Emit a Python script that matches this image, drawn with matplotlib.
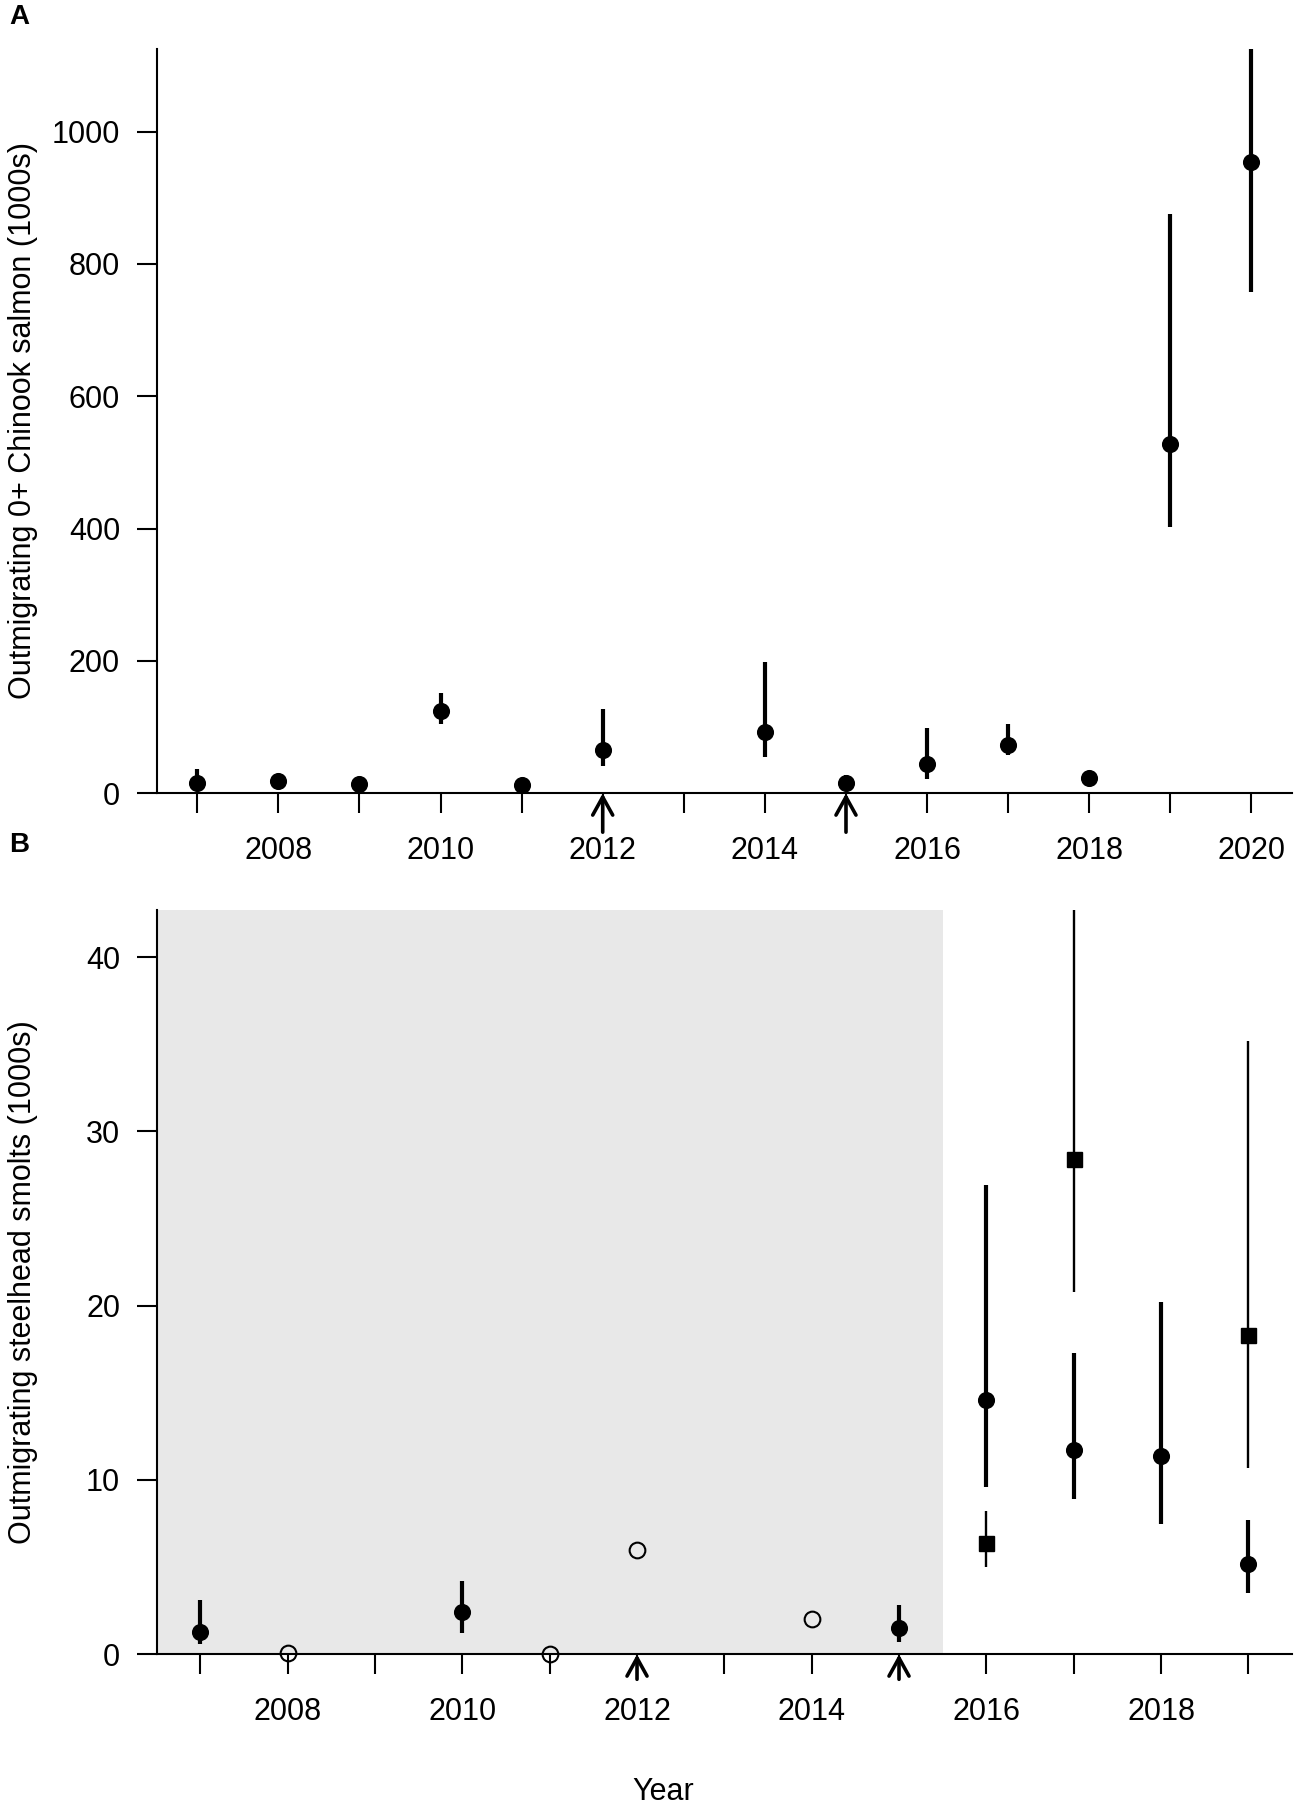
import matplotlib
matplotlib.use("Agg")
import matplotlib.pyplot as plt
import numpy as np

plt.rcParams['font.family'] = ['Liberation Sans', 'DejaVu Sans']

# Panel A: outmigrating 0+ Chinook salmon (1000s)
chinook_year = [2007, 2008, 2009, 2010, 2011, 2012, 2014, 2015, 2016, 2017, 2018, 2019, 2020]
chinook_est = [16, 18, 14, 125, 12, 65, 93, 15, 45, 73, 23, 528, 954]
chinook_lo = [8, 13, 10, 104, 7, 41, 55, 7, 22, 58, 16, 403, 758]
chinook_hi = [36, 23, 18, 152, 21, 127, 198, 28, 98, 104, 33, 875, 1160]

# Panel B: outmigrating steelhead smolts (1000s)
sh_year = [2007, 2010, 2015, 2016, 2017, 2018, 2019]
sh_est = [1.3, 2.4, 1.5, 14.6, 11.7, 11.4, 5.2]
sh_lo = [0.6, 1.2, 0.7, 9.6, 8.9, 7.5, 3.5]
sh_hi = [3.1, 4.2, 2.8, 26.9, 17.3, 20.2, 7.7]

sh_open_year = [2008, 2011, 2012, 2014]
sh_open_est = [0.1, 0.0, 6.0, 2.0]

sh_sq_year = [2016, 2017, 2019]
sh_sq_est = [6.4, 28.4, 18.3]
sh_sq_lo = [5.0, 20.8, 10.7]
sh_sq_hi = [8.2, 46.0, 35.2]

arrow_years = [2012, 2015]
shade_end = 2015.5

FS = 22
MS = 11.3
W, H = 1299, 1811


def style_axes(ax, years, yticks):
    for s in ['top', 'right']:
        ax.spines[s].set_visible(False)
    for s in ['left', 'bottom']:
        ax.spines[s].set_linewidth(1.5)
    ax.set_xticks(years)
    ax.set_xticklabels([str(y) if y % 2 == 0 else '' for y in years])
    ax.set_yticks(yticks)
    ax.tick_params(axis='x', length=14.4, width=1.5, pad=16, labelsize=FS)
    ax.tick_params(axis='y', length=14.4, width=1.5, pad=12, labelsize=FS)


def add_arrows(ax, dy_pt):
    for yr in arrow_years:
        ax.annotate('', xy=(yr, 0), xytext=(0, -dy_pt), textcoords='offset points',
                    xycoords='data', annotation_clip=False,
                    arrowprops=dict(arrowstyle='->,head_length=0.65,head_width=0.36',
                                    mutation_scale=20, lw=2.6, color='black',
                                    shrinkA=0, shrinkB=0))


fig = plt.figure(figsize=(W / 100, H / 100), dpi=100)

# ---- Panel A ----
axA = fig.add_axes([156.7 / W, 1 - 793.3 / H, 1135.3 / W, 744 / H])
est = np.array(chinook_est, dtype=float)
axA.errorbar(chinook_year, est,
             yerr=[est - np.array(chinook_lo), np.array(chinook_hi) - est],
             fmt='o', color='black', ms=MS, elinewidth=3.0, capsize=0)
axA.set_xlim(2006.5, 2020.5)
axA.set_ylim(0, 1124.5)
style_axes(axA, list(range(2007, 2021)), [0, 200, 400, 600, 800, 1000])
add_arrows(axA, 28)

# ---- Panel B ----
axB = fig.add_axes([156.7 / W, 1 - 1654.3 / H, 1135.3 / W, 744.3 / H])
axB.axvspan(2006.5, shade_end, color='#e8e8e8', lw=0, zorder=0)
est = np.array(sh_est)
axB.errorbar(sh_year, est,
             yerr=[est - np.array(sh_lo), np.array(sh_hi) - est],
             fmt='o', color='black', ms=MS, elinewidth=3.0, capsize=0)
est = np.array(sh_sq_est)
axB.errorbar(sh_sq_year, est,
             yerr=[est - np.array(sh_sq_lo), np.array(sh_sq_hi) - est],
             fmt='s', color='black', ms=10.8, elinewidth=1.7, capsize=0)
axB.plot(sh_open_year, sh_open_est, 'o', ms=MS, mfc='none', mec='black',
         mew=1.5, clip_on=False, zorder=5)
axB.set_xlim(2006.5, 2019.5)
axB.set_ylim(0, 42.7)
style_axes(axB, list(range(2007, 2020)), [0, 10, 20, 30, 40])
add_arrows(axB, 18)

# labels
fig.text(23 / W, 1 - 421 / H, 'Outmigrating 0+ Chinook salmon (1000s)',
         rotation=90, ha='center', va='center', fontsize=FS)
fig.text(23 / W, 1 - 1282 / H, 'Outmigrating steelhead smolts (1000s)',
         rotation=90, ha='center', va='center', fontsize=FS)
fig.text(663 / W, 1 - 1792 / H, 'Year', ha='center', va='center', fontsize=FS)
fig.text(9 / W, 1 - 4 / H, 'A', ha='left', va='top', fontsize=20, fontweight='bold')
fig.text(9 / W, 1 - 832 / H, 'B', ha='left', va='top', fontsize=20, fontweight='bold')

fig.savefig('out.png', dpi=100)
